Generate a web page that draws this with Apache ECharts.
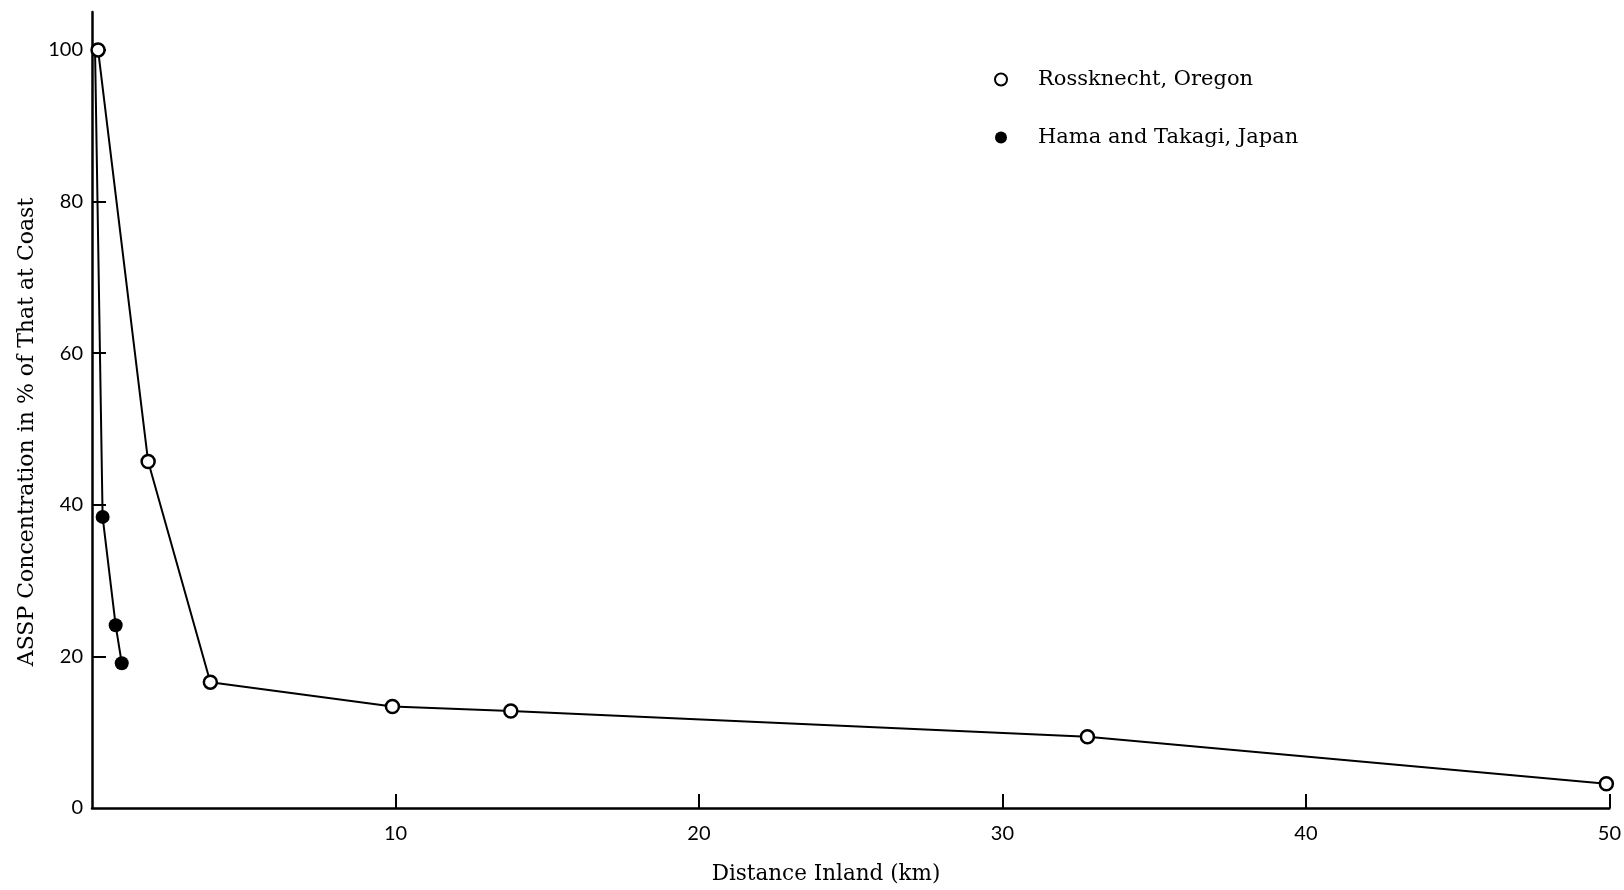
<!DOCTYPE html>
<html>
<head>
<meta charset="utf-8">
<script src="https://cdn.jsdelivr.net/npm/echarts@6/dist/echarts.min.js"></script>
<style>
html,body{margin:0;padding:0;background:#fff;}
#chart{width:1624px;height:890px;}
</style>
</head>
<body>
<div id="chart"></div>
<script>
// Data (distance inland in km, concentration in % of coastal value)
const oregonX = [0.2, 1.85, 3.9, 9.9, 13.8, 32.8, 49.9];
const oregonY = [100, 45.7, 16.6, 13.4, 12.8, 9.4, 3.2];
const japanX = [0.1, 0.35, 0.78, 0.98];
const japanY = [100, 38.4, 24.1, 19.1];
const japanMarked = [false, true, true, true];
const xTickValues = [10, 20, 30, 40, 50];
const yTickValues = [20, 40, 60, 80, 100];
const yLabelValues = [0, 20, 40, 60, 80, 100];
const seriesNames = ['Rossknecht, Oregon', 'Hama and Takagi, Japan'];
const xTitle = 'Distance Inland (km)';
const yTitle = 'ASSP Concentration in % of That at Coast';

const oregonData = oregonX.map((x, i) => [x, oregonY[i]]);
const japanData = japanX.map((x, i) => japanMarked[i] ? [x, japanY[i]] : {value: [x, japanY[i]], symbol: 'none'});

const chart = echarts.init(document.getElementById('chart'));
const serif = 'DejaVu Serif';
const sans = 'Lato';
chart.setOption({
  backgroundColor: '#fff',
  animation: false,
  grid: {left: 92, right: 7, top: 12, bottom: 82, containLabel: false},
  xAxis: {
    type: 'value', min: 0, max: 50,
    axisLine: {show: true, lineStyle: {color: '#000', width: 2.5}},
    axisTick: {show: true, inside: true, length: 14, lineStyle: {color: '#000', width: 2}, customValues: xTickValues},
    axisLabel: {show: true, customValues: xTickValues, color: '#000', fontFamily: sans, fontSize: 20, margin: 16},
    splitLine: {show: false}
  },
  yAxis: {
    type: 'value', min: 0, max: 105,
    axisLine: {show: true, lineStyle: {color: '#000', width: 2.5}},
    axisTick: {show: true, inside: true, length: 14, lineStyle: {color: '#000', width: 2}, customValues: yTickValues},
    axisLabel: {show: true, customValues: yLabelValues, color: '#000', fontFamily: sans, fontSize: 20, margin: 9},
    splitLine: {show: false}
  },
  legend: {
    orient: 'vertical',
    left: 989, top: 64,
    itemWidth: 64, itemHeight: 12, itemGap: 37,
    textStyle: {fontFamily: serif, fontSize: 21, color: '#000'},
    data: [{name: seriesNames[0], icon: 'circle'}, {name: seriesNames[1], icon: 'circle'}]
  },
  graphic: [
    {type: 'text', x: 826, y: 874, style: {text: xTitle, font: '21.5px "DejaVu Serif"', fill: '#000', textAlign: 'center', textVerticalAlign: 'middle'}},
    {type: 'text', x: 27, y: 432, rotation: Math.PI / 2, style: {text: yTitle, font: '22px "DejaVu Serif"', fill: '#000', textAlign: 'center', textVerticalAlign: 'middle'}}
  ],
  series: [
    {
      name: seriesNames[0], type: 'line', data: oregonData,
      symbol: 'circle', symbolSize: 13, showAllSymbol: true, clip: false, z: 3,
      lineStyle: {color: '#000', width: 2},
      itemStyle: {color: '#fff', borderColor: '#000', borderWidth: 2.5}
    },
    {
      name: seriesNames[1], type: 'line', data: japanData,
      symbol: 'circle', symbolSize: 14, showAllSymbol: true, clip: false, z: 2,
      lineStyle: {color: '#000', width: 2},
      itemStyle: {color: '#000', borderColor: '#000', borderWidth: 0}
    }
  ]
});
</script>
</body>
</html>
